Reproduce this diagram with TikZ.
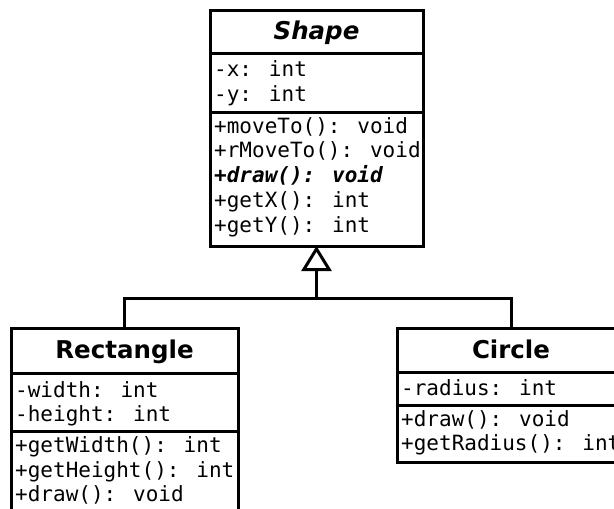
\documentclass[tikz,border=0pt]{standalone}
\usepackage{fontspec}
\setmainfont{DejaVu Sans}
\newfontfamily\monof{DejaVu Sans Mono}
\usetikzlibrary{arrows.meta}
\tikzset{
  x=1pt, y=-1pt,
  umlline/.style={line width=3pt, line join=miter},
  classbox/.style={draw, umlline, rectangle, anchor=north west, inner sep=0pt, outer sep=0pt},
  classtitle/.style={anchor=base, inner sep=0pt, font=\fontsize{24.5}{29}\selectfont\bfseries},
  member/.style={anchor=base west, inner sep=0pt, font=\monof\fontsize{21}{25}\selectfont},
  gen/.style={umlline, -{Triangle[open, length=25pt, width=30pt, line width=3pt]}}
}
\begin{document}
\begin{tikzpicture}
\clip (0,0) rectangle (614,509);
\fill[white] (0,0) rectangle (614,509);

% Shape
\node[classbox, minimum width=213pt, minimum height=236pt] (shape) at (210,10) {};
\draw[umlline] (210,53) -- (423,53);
\draw[umlline] (210,112.5) -- (423,112.5);
\node[classtitle] (shapet) at (316.5,39) {\itshape Shape};
\node[member] (sa1) at (214,76) {-x: int};
\node[member] (sa2) at (214,101) {-y: int};
\node[member] (sm1) at (214,133) {+moveTo(): void};
\node[member] (sm2) at (214,157.75) {+rMoveTo(): void};
\node[member] (sm3) at (214,182.5) {\bfseries\itshape +draw(): void};
\node[member] (sm4) at (214,207.25) {+getX(): int};
\node[member] (sm5) at (214,232) {+getY(): int};

% Rectangle
\node[classbox, minimum width=227pt, minimum height=210pt] (rect) at (11,328) {};
\draw[umlline] (11,373) -- (238,373);
\draw[umlline] (11,431) -- (238,431);
\node[classtitle] (rectt) at (124.5,358) {Rectangle};
\node[member] (ra1) at (15,397) {-width: int};
\node[member] (ra2) at (15,421) {-height: int};
\node[member] (rm1) at (15,452.5) {+getWidth(): int};
\node[member] (rm2) at (15,477) {+getHeight(): int};
\node[member] (rm3) at (15,501) {+draw(): void};

% Circle
\node[classbox, minimum width=228pt, minimum height=134pt] (circ) at (397,328) {};
\draw[umlline] (397,372) -- (625,372);
\draw[umlline] (397,405) -- (625,405);
\node[classtitle] (circt) at (511,358) {Circle};
\node[member] (ca1) at (401,395) {-radius: int};
\node[member] (cm1) at (401,426) {+draw(): void};
\node[member] (cm2) at (401,450) {+getRadius(): int};

% Generalization
\coordinate (j) at (316.5,298.5);
\draw[umlline] (rect.north) |- (j) -| (circ.north);
\draw[gen] (j) -- (shape.south);
\end{tikzpicture}
\end{document}
